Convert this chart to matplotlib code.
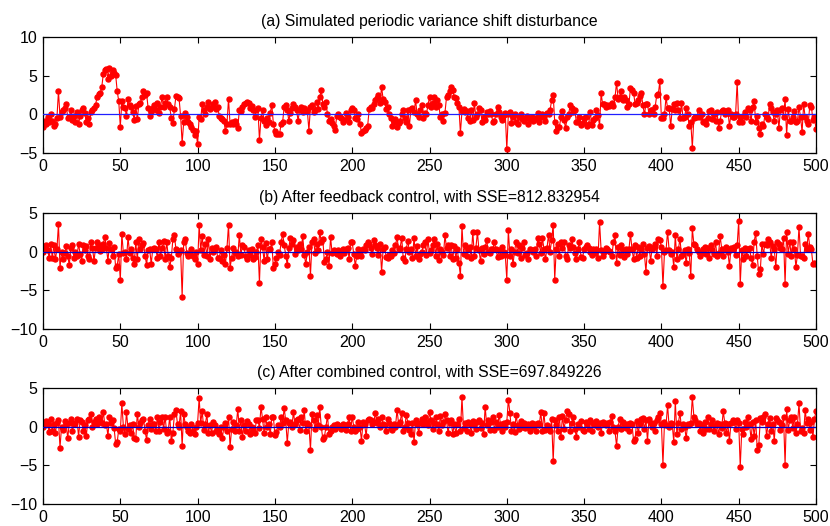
import matplotlib
matplotlib.use("Agg")
import matplotlib.pyplot as plt
import numpy as np

plt.rcParams['font.family'] = ['Liberation Sans', 'DejaVu Sans']

# (a) Simulated periodic variance shift disturbance (t = 0..500)
disturbance = [
    -1.7,
    -0.8, -1.2, -0.3, -1.0, 0.0, -0.8, -1.5, -1.2, -0.5, 3.0,
    -0.3, 0.3, 0.6, 0.8, 1.3, -0.5, -0.3, 0.5, -0.7, -0.2,
    -1.0, 0.3, -1.3, -0.2, 0.5, 0.8, 0.2, -1.0, -0.5, -1.2,
    0.3, 0.5, 0.8, 1.2, 2.3, 2.6, 2.7, 3.5, 5.2, 5.7,
    5.9, 4.6, 6.0, 5.0, 5.7, 5.4, 5.1, 3.0, 1.7, -1.6,
    1.7, 1.0, 0.8, -0.2, 2.0, 1.2, 1.0, 0.3, -0.7, 1.1,
    -0.6, 1.3, 1.5, 2.2, 3.0, 2.5, 2.7, 0.8, -0.2, 0.3,
    0.8, 1.2, 0.5, 1.5, 0.2, 1.0, 2.2, 1.0, 1.5, 2.2,
    1.3, 0.9, -0.5, -1.1, 0.7, 2.4, 2.2, 2.1, -0.2, -3.7,
    -1.0, 0.2, -0.3, -1.0, -1.3, -1.7, -2.0, -2.7, -2.2, -3.9,
    -0.3, -0.6, 1.3, 0.5, 0.0, 1.0, 1.6, 0.7, 1.0, 1.4,
    1.6, 0.7, 1.0, -0.2, -0.5, -0.6, -0.8, -2.2, -1.2, 2.0,
    -1.3, -1.0, -1.2, -0.8, -1.2, -1.8, 0.6, 0.4, 1.0, 1.4,
    1.5, 1.6, 1.5, 0.8, 1.1, 0.5, -0.3, 0.6, 0.8, -3.3,
    -0.5, 0.5, -0.8, -1.4, -0.5, -1.0, 0.2, 1.2, -1.2, -2.2,
    -2.6, -2.5, -2.6, -1.2, -1.0, 1.0, 1.2, 0.5, -0.8, 0.2,
    0.8, 1.3, 1.0, 0.5, -0.8, 0.6, 1.0, 0.3, 0.8, 0.5,
    0.4, -2.1, 1.0, 1.2, 0.3, 0.6, 1.6, 0.7, 2.2, 3.2,
    1.3, 1.0, 1.6, 0.0, -0.8, -0.6, -1.1, -1.5, -2.0, -0.2,
    0.0, -0.3, -0.5, -1.0, -0.7, 0.2, -0.4, -1.0, 0.6, 0.8,
    0.5, -0.5, -0.6, 0.0, -1.2, -2.4, -2.2, -2.0, -1.8, -1.5,
    0.7, 1.0, 0.8, 1.4, 1.8, 2.1, 2.5, 1.5, 3.5, 2.0,
    1.6, 0.7, 1.0, 0.0, -0.5, -1.5, -1.0, -0.6, -1.6, -1.1,
    -0.8, 0.0, 0.6, -0.5, -1.0, 0.6, -1.5, 0.7, 0.8, 0.3,
    1.8, 0.0, -0.3, 0.5, 1.2, -0.5, 0.2, 0.0, 1.2, 2.2,
    1.0, 1.5, 2.3, 0.9, 1.8, 1.2, -0.3, 0.0, -0.8, 0.2,
    2.2, 2.5, 3.0, 3.5, 3.1, 2.3, 2.1, 1.5, 1.0, -2.4,
    0.4, 0.7, 0.3, 0.4, -0.5, -0.8, 0.6, -0.7, 1.5, -0.4,
    0.0, 0.8, 0.6, -1.0, -0.3, -0.7, 0.3, 0.0, 0.4, 0.0,
    -1.0, -0.8, 0.0, 1.0, 0.3, -0.3, -0.7, -0.1, 0.2, -4.5,
    0.0, 0.3, -1.1, -0.3, 0.0, -1.0, -1.2, -0.4, 0.0, -0.6,
    -0.8, -0.5, -0.2, -1.3, -0.6, -0.3, -0.8, -0.5, -0.6, 0.2,
    -1.0, -0.3, 0.0, -0.4, -0.8, 0.2, 0.1, 0.6, 1.8, 2.5,
    -1.0, -2.2, -1.7, -1.6, -0.4, 0.4, -0.7, -1.8, -0.4, 0.0,
    1.2, 0.8, 0.3, 0.5, -1.0, -1.0, -0.3, -1.4, -1.1, -0.5,
    -0.3, -1.5, -1.2, 0.3, -1.4, -0.7, -0.5, 0.5, -0.1, -1.5,
    2.7, 1.3, 1.3, 1.0, 1.2, 1.1, 1.2, 1.5, 1.1, 2.2,
    4.1, 2.0, 2.2, 3.0, 1.9, 2.2, 1.8, 1.0, 1.3, 3.4,
    3.2, 2.8, 1.3, 1.5, 1.8, 2.4, 2.7, 1.2, 0.0, 1.3,
    1.3, 0.0, 0.5, 0.5, 0.0, 1.0, 2.5, 2.6, 4.3, -0.5,
    -0.5, 0.0, 2.2, 0.8, 0.8, -1.5, 0.7, 1.3, 0.5, 1.5,
    0.6, -0.5, 1.5, -0.5, -0.3, 0.8, 0.0, -1.5, -1.0, -4.3,
    -0.5, -0.3, -0.3, 0.5, -0.3, 0.0, -1.0, -0.8, -1.2, -0.5,
    0.4, 0.5, -0.6, 0.0, -0.8, 0.3, -1.8, -0.8, 0.4, 0.6,
    0.0, 0.4, 0.5, -1.5, 0.0, -0.3, -0.4, 0.0, 4.2, -1.0,
    -0.4, -1.0, -0.2, 0.3, -0.3, 0.8, 0.5, -0.9, 1.0, 1.7,
    -1.0, -0.2, -1.8, -2.6, -1.2, -1.5, 0.0, -0.4, -0.6, 1.4,
    0.8, 0.3, -0.9, 0.0, 0.6, -1.8, 0.6, 0.8, -0.3, 2.0,
    -2.7, 0.7, -0.8, -0.9, -0.3, 0.4, -1.0, -0.8, 0.9, -0.3,
    -2.3, 1.3, -0.4, -0.8, -1.2, 1.2, 1.0, -0.7, -0.3, -1.9,
]

# (b) After feedback control
feedback = [
    -0.1,
    0.5, 0.8, 0.2, -0.8, 1.0, -0.8, 0.8, -1.0, 0.3, 3.6,
    -2.1, 0.0, -1.0, -0.2, 0.7, -0.6, -1.7, 0.5, 0.9, -0.8,
    0.0, -0.5, 1.0, -0.3, -1.2, 0.8, 0.2, 0.7, -0.6, -1.0,
    1.3, 0.5, -1.2, 0.5, 1.2, 0.8, 0.1, 0.3, 1.0, 1.9,
    0.5, -1.2, 1.1, 0.3, -0.5, 0.6, -2.1, -1.8, -0.3, -3.7,
    2.3, -0.2, 0.0, -1.0, 1.9, -0.2, 0.3, -0.8, -1.6, 1.2,
    -1.0, 1.6, 0.4, 0.9, 1.1, -0.5, -1.7, 0.2, 0.3, -1.6,
    0.4, 0.5, 0.3, -0.8, 1.3, -0.5, 0.5, 1.4, -1.0, 1.3,
    -0.6, -2.0, -0.8, 1.6, 2.1, 0.3, -0.3, 0.0, 0.2, -5.8,
    1.2, 1.6, -0.2, -0.6, -0.3, 0.3, -0.5, -1.0, 0.0, -1.6,
    3.4, 0.2, 2.0, -0.4, 1.0, -0.6, 1.6, -1.0, 0.5, 0.0,
    0.4, 0.6, -0.8, -0.8, 0.2, -1.2, -0.4, -1.6, 0.5, 3.5,
    -2.1, -0.8, 0.5, -0.2, 0.0, -0.6, 2.2, -0.4, 0.8, 0.6,
    -0.6, -0.9, 0.2, -0.4, 0.3, -1.0, -0.7, 0.0, 0.8, -4.0,
    1.7, 0.6, -1.2, 1.1, -1.0, 0.3, 0.4, 1.2, -2.1, -1.6,
    -0.8, 0.0, -0.4, 1.2, 2.3, 0.9, -0.5, -1.7, 0.5, 1.8,
    1.0, 1.5, -0.3, 0.6, 0.2, 1.0, 0.4, 2.0, -0.4, -1.6,
    0.0, 0.6, -3.1, 1.3, 1.6, -0.2, 1.0, 0.2, 2.5, 1.3,
    1.6, -1.3, -1.0, 0.0, -1.8, 1.9, -0.2, 0.2, 0.0, -0.3,
    0.2, -0.6, 0.0, 0.3, -0.2, 0.3, 0.5, -0.9, 1.3, 1.2,
    -0.3, -1.8, -0.5, 0.3, 0.0, -0.6, 0.4, 0.2, 0.8, 1.3,
    1.0, 0.5, -0.3, 1.5, 0.8, 0.5, -0.4, 1.0, -2.6, 0.3,
    0.6, -0.7, -0.8, -0.4, -0.5, 0.2, -0.2, 0.8, 1.9, 0.3,
    0.5, 1.8, -0.8, -1.2, 0.4, 1.4, 0.0, 0.3, -0.8, 1.8,
    -0.6, 0.7, -1.0, -0.3, 0.0, 0.8, 1.2, -0.4, 1.6, -0.2,
    0.2, 0.8, 1.6, -0.5, 1.0, -1.1, 0.3, 0.0, -0.4, 2.1,
    0.5, 0.8, -0.5, 0.9, -1.0, 0.7, -0.8, 0.4, -1.5, -3.1,
    3.3, -0.3, 0.8, -0.5, 0.4, 0.6, -0.8, 2.6, -0.5, 0.5,
    2.5, 0.2, -1.2, 0.5, -0.3, 0.6, 1.5, 0.0, -0.2, 0.4,
    0.4, 1.2, 0.3, -0.7, 0.2, -0.5, 0.6, 0.0, -0.4, -3.6,
    2.8, -0.5, 0.3, -1.6, 0.0, 1.3, -0.2, 0.9, -0.8, 0.5,
    1.2, -0.4, -0.2, -0.9, 0.4, 0.2, 0.0, 0.4, -0.6, 1.8,
    1.0, -0.2, 1.8, 0.4, -1.0, 0.5, 2.2, 0.0, 1.5, 3.5,
    -3.6, 0.4, 1.0, -0.5, 1.2, 0.5, 1.3, -0.6, -1.0, 0.8,
    0.5, 1.6, 0.6, -0.2, -1.0, 0.3, 1.3, -0.7, -0.8, 0.3,
    0.6, 0.8, 0.5, 0.0, -0.4, 0.3, -0.2, 0.4, -0.8, 3.8,
    0.2, -0.6, 0.0, 0.5, 0.3, 0.1, 0.0, -0.5, 1.3, 2.1,
    -1.5, 0.6, -0.4, 0.8, 0.2, -0.7, 0.4, -0.3, 0.3, 2.3,
    0.3, -1.0, 0.8, -0.8, 0.6, -0.5, 0.4, 1.0, -0.3, -2.6,
    0.5, 0.7, -1.2, 0.4, 0.6, 1.0, -0.5, 1.6, 1.5, 0.6,
    -4.5, 0.0, 0.2, 2.6, 0.2, -0.3, 0.0, -2.0, 2.2, -1.0,
    0.3, 1.7, -0.5, -0.3, 0.2, -1.5, 0.4, -0.2, -3.2, 3.0,
    1.0, 0.8, 0.3, 0.0, -0.5, -0.2, 0.4, 0.6, -0.3, 0.5,
    -0.8, 0.8, 0.2, -0.3, 1.2, -0.6, -0.2, 2.0, 0.4, -0.5,
    0.3, 0.6, 0.0, -1.9, 0.5, 0.4, 0.6, -0.4, 0.8, 4.0,
    -4.2, 0.2, -1.0, 0.5, -0.5, 0.3, 0.5, -0.8, -1.7, 1.3,
    2.4, -0.6, -2.9, -2.3, 1.0, -0.3, 1.0, 0.8, 1.6, 1.3,
    -0.8, 0.7, 0.3, -2.0, 1.3, 1.0, 0.5, 0.4, 1.8, -4.2,
    2.5, -0.3, 1.3, -0.6, 1.2, 0.4, -2.0, -0.4, 3.2, -0.5,
    -0.5, -0.8, 1.0, 0.3, 2.3, 0.6, 0.3, -1.6, -1.5, -1.6,
]

# (c) After combined control
combined = [
    0.0,
    0.5, 0.7, 0.3, -0.7, 1.0, -0.6, 0.4, -0.8, 0.5, 0.8,
    -2.7, 0.0, -0.4, 0.7, 0.3, -1.5, 0.5, 1.0, -0.5, 0.3,
    0.5, 1.0, -1.3, 0.8, 0.6, -0.6, 0.2, -1.2, 0.8, 1.0,
    1.6, 0.0, 0.6, 1.0, 0.4, 1.3, 0.7, 0.5, 1.9, 0.2,
    0.4, -1.2, 1.2, 0.5, 0.8, -0.2, -2.2, -2.0, -0.3, -0.6,
    3.0, 0.0, -1.0, 1.9, -0.3, 0.2, -0.8, 0.3, -1.5, -1.6,
    1.7, 0.0, 0.5, 0.9, 1.0, -0.5, -1.7, 0.2, 1.0, -0.3,
    0.3, 0.4, -0.5, 1.3, -0.5, 0.6, 1.2, -0.3, 1.3, -0.8,
    -0.5, 1.3, -1.9, -0.8, 1.6, 2.1, 0.3, 0.0, 2.0, -2.5,
    1.7, 0.3, 0.0, -0.5, -0.8, 0.3, -0.6, -1.0, 0.0, 0.5,
    3.7, 0.5, 2.0, -0.4, 0.3, 1.6, -0.8, 0.2, -0.8, 0.6,
    0.2, -0.6, -0.4, -0.9, 0.0, -1.5, 0.0, 0.5, -0.6, 1.3,
    -2.6, -0.3, 0.6, -0.5, 0.2, 2.3, -0.5, 0.8, -1.4, 0.2,
    -0.6, 0.7, 0.3, -0.9, 0.0, -0.4, -0.8, 0.8, 0.9, -0.2,
    2.6, 1.0, -0.8, 1.2, 0.0, 0.4, -1.0, 1.3, 1.3, -1.1,
    -0.7, 0.2, 0.0, 1.2, 0.5, 2.4, 0.8, -2.1, 0.5, 0.6,
    0.0, 1.9, 0.3, 0.8, 1.0, -0.4, 1.2, 0.5, 2.1, -0.6,
    0.5, 0.2, -3.0, 1.7, 0.8, -0.3, 1.5, 0.2, 2.5, 0.0,
    -1.6, -1.4, 0.0, 1.4, -1.0, -0.5, 0.0, 0.2, -0.3, 0.4,
    0.2, 0.0, -0.3, 0.4, 0.2, -0.4, 0.3, 1.3, -0.5, 1.3,
    0.0, -0.5, -0.3, 0.6, 0.0, -1.8, 0.6, 0.3, -1.2, 0.8,
    1.0, 0.8, 0.3, 0.6, 1.8, 0.5, 1.0, 0.0, 1.2, 0.4,
    0.2, -0.5, 1.0, 0.5, -0.2, -0.4, 0.3, 0.0, 2.2, 0.4,
    0.6, 1.8, -0.6, 0.0, 1.5, 0.5, -0.4, -0.9, 0.5, -2.0,
    0.8, 0.3, -0.8, 0.5, 1.0, 0.3, 1.2, 0.6, 0.2, 1.9,
    0.8, -0.3, 0.5, 1.2, 0.3, -0.6, 1.4, 0.2, 0.6, 1.6,
    0.8, -0.8, 0.5, 0.9, -1.0, 0.3, -0.8, 0.3, 1.0, -0.6,
    3.8, -0.2, 0.5, -0.5, 0.6, 0.4, -0.8, 0.7, 0.2, -0.3,
    0.6, 0.9, -0.2, 0.5, -1.0, 2.6, 0.2, 0.8, -0.4, 0.6,
    1.2, -0.4, 0.6, 0.0, 1.5, 0.3, -0.6, 0.5, 0.0, 0.6,
    3.5, 1.8, -0.5, 0.3, -0.7, 1.5, 0.2, -0.3, 0.7, 0.0,
    0.5, -0.2, 0.0, 0.3, -0.5, 0.5, 0.0, 0.4, -0.6, 0.5,
    0.2, 1.9, -0.5, 1.8, -0.4, 0.2, 0.0, -0.6, 1.0, -4.5,
    0.8, 0.2, -0.5, 1.3, -1.4, 1.4, -0.3, 0.8, 2.0, 1.6,
    -0.6, 0.5, 1.2, -0.3, -1.3, 0.3, 0.0, 0.7, -0.4, -0.5,
    0.6, 0.3, -0.3, 0.8, -0.5, 0.5, 0.2, 0.7, 0.0, 0.5,
    -0.8, 0.6, 0.3, 0.2, 0.5, -0.5, 0.6, 1.4, 0.0, -0.6,
    -2.5, 0.0, 1.0, -0.3, 0.6, 0.4, -0.2, 0.3, -0.6, 0.5,
    0.3, -1.8, -1.6, 0.7, -0.8, 0.3, 1.0, 1.1, -0.3, 0.8,
    -1.8, 1.0, 0.5, 0.0, 0.5, -0.6, 0.8, 1.3, 1.8, 0.4,
    -4.9, 0.6, 0.2, 2.8, 0.0, 0.5, 0.3, -2.0, 3.3, -1.0,
    0.5, 1.8, -0.3, 0.4, 0.0, -1.5, 0.3, 0.2, 0.5, 3.8,
    1.3, 0.8, 0.3, 0.5, -0.5, 0.2, -0.8, 0.6, -0.3, 1.3,
    -0.3, 0.4, 0.9, -0.6, 0.2, 0.5, -1.0, 0.3, -0.2, 2.0,
    0.5, -0.8, 0.3, -1.9, 0.5, 0.8, 0.6, -0.3, 0.8, 0.5,
    -5.2, -0.3, -1.0, 0.6, 0.0, 1.2, 0.3, -1.6, 0.6, -1.2,
    0.8, -3.0, -2.4, 1.1, 0.6, 1.3, 1.7, -1.2, 0.3, 1.1,
    -0.5, 0.4, -1.8, 1.1, 0.8, 0.6, -0.4, 0.2, 1.2, -4.9,
    2.3, -0.4, 0.8, 1.3, -0.2, 1.3, -0.8, 0.3, 3.0, -0.5,
    -0.2, -0.8, 2.1, 0.5, 1.0, -0.4, 0.6, -1.4, 1.0, 2.0,
]

titles = [
    "(a) Simulated periodic variance shift disturbance",
    "(b) After feedback control, with SSE=812.832954",
    "(c) After combined control, with SSE=697.849226",
]
series = [disturbance, feedback, combined]
ylims = [(-5, 10), (-10, 5), (-10, 5)]
yticks = [[-5, 0, 5, 10], [-10, -5, 0, 5], [-10, -5, 0, 5]]
xticks = [0, 50, 100, 150, 200, 250, 300, 350, 400, 450, 500]
zero_colors = ['#2020ff', '#0000cc', '#0000cc']
t = np.arange(len(disturbance))

W, H = 830, 526
fig = plt.figure(figsize=(W / 100, H / 100), dpi=100)
tops = [37, 213, 388]
ax_h = 116
left, right = 43, 816

for k in range(3):
    ax = fig.add_axes([left / W, 1 - (tops[k] + ax_h) / H, (right - left) / W, ax_h / H])
    ax.plot(t, series[k], color='red', lw=0.8, marker='o', ms=3.6,
            markerfacecolor='red', markeredgecolor='red', zorder=2)
    ax.axhline(0, color=zero_colors[k], lw=0.9, zorder=3)
    ax.set_xlim(0, 500)
    ax.set_ylim(*ylims[k])
    ax.set_xticks(xticks)
    ax.set_yticks(yticks[k])
    ax.tick_params(direction='in', top=True, right=True, length=4.5, width=0.8,
                   labelsize=11.5, pad=4)
    for s in ax.spines.values():
        s.set_linewidth(0.9)
    ax.set_title(titles[k], fontsize=11.3, pad=8)

fig.savefig("out.png", dpi=100)
